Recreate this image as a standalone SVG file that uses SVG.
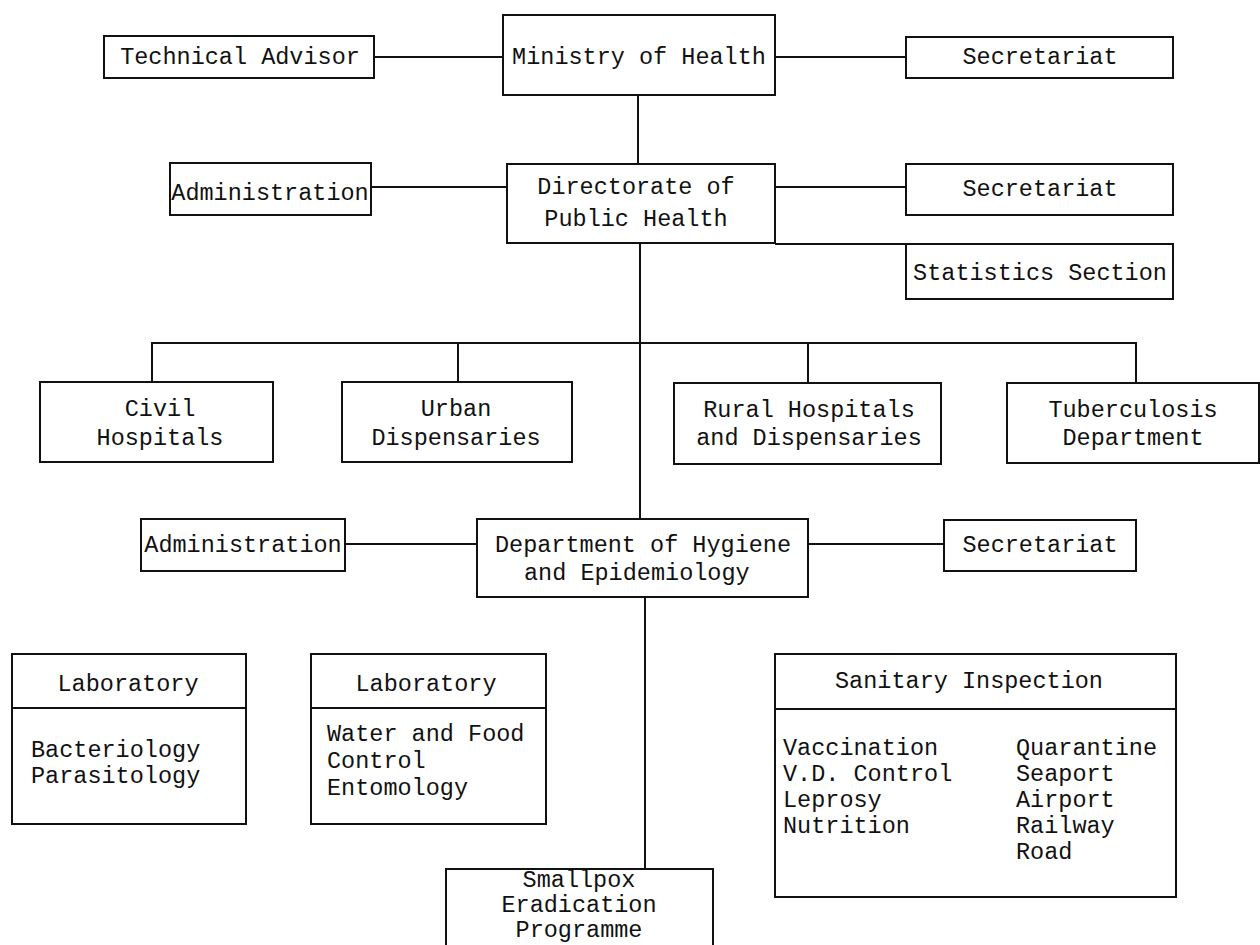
<svg xmlns="http://www.w3.org/2000/svg" width="1260" height="945" viewBox="0 0 1260 945">
<style>
  .box { fill: #ffffff; stroke: #111111; stroke-width: 2; }
  .ln { fill: none; stroke: #111111; stroke-width: 2; }
  text { font-family: "Liberation Mono", "Courier New", monospace; font-size: 23.5px; fill: #111111; }
  .c { text-anchor: middle; }
</style>
<rect x="0" y="0" width="1260" height="945" fill="#ffffff"/>
<g id="connectors">
  <line class="ln" x1="374" y1="57" x2="503" y2="57"/>
  <line class="ln" x1="775" y1="57" x2="906" y2="57"/>
  <line class="ln" x1="638" y1="95" x2="638" y2="164"/>
  <line class="ln" x1="370" y1="187" x2="507" y2="187"/>
  <line class="ln" x1="775" y1="187" x2="906" y2="187"/>
  <line class="ln" x1="775" y1="244" x2="906" y2="244"/>
  <line class="ln" x1="640" y1="243" x2="640" y2="519"/>
  <polyline class="ln" points="152,382 152,343 1136,343 1136,383"/>
  <line class="ln" x1="458" y1="343" x2="458" y2="382"/>
  <line class="ln" x1="808" y1="343" x2="808" y2="383"/>
  <line class="ln" x1="345" y1="544" x2="477" y2="544"/>
  <line class="ln" x1="808" y1="544" x2="945" y2="544"/>
  <line class="ln" x1="645" y1="597" x2="645" y2="869"/>
</g>
<g id="technical-advisor">
  <rect class="box" x="104" y="36" width="270" height="42"/>
  <text class="c" x="240" y="64">Technical Advisor</text>
</g>
<g id="ministry">
  <rect class="box" x="503" y="15" width="272" height="80"/>
  <text class="c" x="639" y="64">Ministry of Health</text>
</g>
<g id="secretariat-1">
  <rect class="box" x="906" y="37" width="267" height="41"/>
  <text class="c" x="1040" y="64">Secretariat</text>
</g>
<g id="administration-1">
  <rect class="box" x="170" y="163" width="201" height="52"/>
  <text class="c" x="270" y="200">Administration</text>
</g>
<g id="directorate">
  <rect class="box" x="507" y="164" width="268" height="79"/>
  <text class="c" x="636" y="194">Directorate of</text>
  <text class="c" x="636" y="226">Public Health</text>
</g>
<g id="secretariat-2">
  <rect class="box" x="906" y="164" width="267" height="51"/>
  <text class="c" x="1040" y="196">Secretariat</text>
</g>
<g id="statistics">
  <rect class="box" x="906" y="244" width="267" height="55"/>
  <text class="c" x="1040" y="280">Statistics Section</text>
</g>
<g id="civil-hospitals">
  <rect class="box" x="40" y="382" width="233" height="80"/>
  <text class="c" x="160" y="416">Civil</text>
  <text class="c" x="160" y="445">Hospitals</text>
</g>
<g id="urban-dispensaries">
  <rect class="box" x="342" y="382" width="230" height="80"/>
  <text class="c" x="456" y="416">Urban</text>
  <text class="c" x="456" y="445">Dispensaries</text>
</g>
<g id="rural-hospitals">
  <rect class="box" x="674" y="383" width="267" height="81"/>
  <text class="c" x="809" y="417">Rural Hospitals</text>
  <text class="c" x="809" y="445">and Dispensaries</text>
</g>
<g id="tuberculosis">
  <rect class="box" x="1007" y="383" width="252" height="80"/>
  <text class="c" x="1133" y="417">Tuberculosis</text>
  <text class="c" x="1133" y="445">Department</text>
</g>
<g id="administration-2">
  <rect class="box" x="141" y="519" width="204" height="52"/>
  <text class="c" x="243" y="552">Administration</text>
</g>
<g id="hygiene">
  <rect class="box" x="477" y="519" width="331" height="78"/>
  <text class="c" x="643" y="552">Department of Hygiene</text>
  <text x="524" y="580">and Epidemiology</text>
</g>
<g id="secretariat-3">
  <rect class="box" x="944" y="520" width="192" height="51"/>
  <text class="c" x="1040" y="552">Secretariat</text>
</g>
<g id="laboratory-1">
  <rect class="box" x="12" y="654" width="234" height="170"/>
  <line class="ln" x1="12" y1="708" x2="246" y2="708"/>
  <text class="c" x="128" y="691">Laboratory</text>
  <text x="31" y="757">Bacteriology</text>
  <text x="31" y="783">Parasitology</text>
</g>
<g id="laboratory-2">
  <rect class="box" x="311" y="654" width="235" height="170"/>
  <line class="ln" x1="311" y1="708" x2="546" y2="708"/>
  <text class="c" x="426" y="691">Laboratory</text>
  <text x="327" y="741">Water and Food</text>
  <text x="327" y="768">Control</text>
  <text x="327" y="795">Entomology</text>
</g>
<g id="sanitary-inspection">
  <rect class="box" x="775" y="654" width="401" height="243"/>
  <line class="ln" x1="775" y1="709" x2="1176" y2="709"/>
  <text class="c" x="969" y="688">Sanitary Inspection</text>
  <text x="783" y="755">Vaccination</text>
  <text x="783" y="781">V.D. Control</text>
  <text x="783" y="807">Leprosy</text>
  <text x="783" y="833">Nutrition</text>
  <text x="1016" y="755">Quarantine</text>
  <text x="1016" y="781">Seaport</text>
  <text x="1016" y="807">Airport</text>
  <text x="1016" y="833">Railway</text>
  <text x="1016" y="859">Road</text>
</g>
<g id="smallpox">
  <rect class="box" x="446" y="869" width="267" height="90"/>
  <text class="c" x="579" y="887">Smallpox</text>
  <text class="c" x="579" y="912">Eradication</text>
  <text class="c" x="579" y="937">Programme</text>
</g>
</svg>
